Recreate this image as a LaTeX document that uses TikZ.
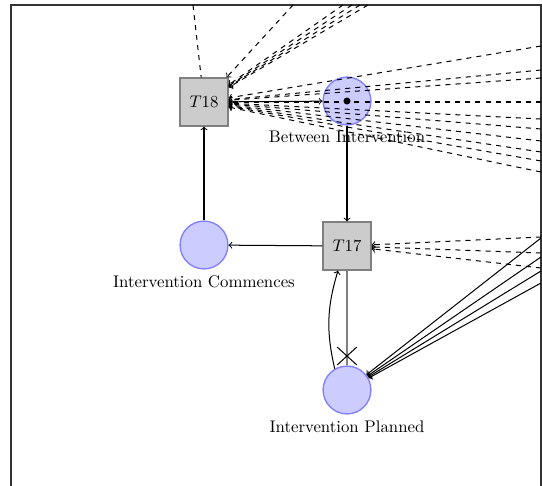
\documentclass[tikz,border=0pt]{standalone}
\usetikzlibrary{shapes.misc}
\begin{document}
\begin{tikzpicture}[x=0.595pt,y=-0.595pt,
  place/.style={circle,draw=blue!50,fill=blue!20,thick,inner sep=0pt,minimum size=1cm},
  transition/.style={rectangle,draw=black!50,fill=black!20,thick,inner sep=0pt,minimum size=1cm},
  token/.style={circle,fill=black,inner sep=0pt,minimum size=4.2pt},
  arc/.style={->,semithick},
  feed/.style={->,dashed,semithick},
  plainfeed/.style={dashed,semithick},
  inhib/.style={draw=black!50,semithick},
  crossmark/.style={cross out,draw=black,semithick,inner sep=0pt,minimum width=11pt,minimum height=10pt},
  frameline/.style={draw=black!80,semithick}]
\useasboundingbox (0,0) rectangle (542,486);
\draw[frameline] (11,486) -- (11,5) -- (541,5) -- (541,486);

\node[transition] (t18) at (204,102) {$T18$};
\node[place,label=below:Between Intervention] (bi) at (347,101) {};
\node[token] (tok) at (347,101) {};
\node[transition] (t17) at (347,246) {$T17$};
\node[place,label=below:Intervention Commences] (ic) at (204,245) {};
\node[place,label=below:Intervention Planned] (ip) at (347,390) {};

% dashed feeds into T18 from the top edge
\coordinate (top0) at (193,5);
\draw[plainfeed] (top0) -- (t18);
\foreach \x [count=\i] in {293,343,352,360,368} {
  \coordinate (top\i) at (\x,5);
  \draw[feed] (top\i) -- (t18);
}
% dashed feeds into T18 from the right edge
\foreach \y [count=\i] in {46,70,78,102,119,129,141,152,161,172} {
  \coordinate (r\i) at (541,\y);
  \draw[feed] (r\i) -- (t18);
}
% dashed feeds into T17 from the right edge
\foreach \y [count=\i] in {237,253,268} {
  \coordinate (s\i) at (541,\y);
  \draw[feed] (s\i) -- (t17);
}
% solid feeds into Intervention Planned
\foreach \y [count=\i] in {238,257,271,283} {
  \coordinate (p\i) at (541,\y);
  \draw[arc] (p\i) -- (ip);
}

\draw[arc] (t18) -- (bi);
\draw[arc] (bi) -- (t17);
\draw[arc] (t17) -- (ic);
\draw[arc] (ic) -- (t18);
\draw[arc] (ip.120) to[bend left=15] (t17.250);
\draw[inhib] (t17) -- (ip);
\node[crossmark] (x) at (347,356) {};
\end{tikzpicture}
\end{document}
